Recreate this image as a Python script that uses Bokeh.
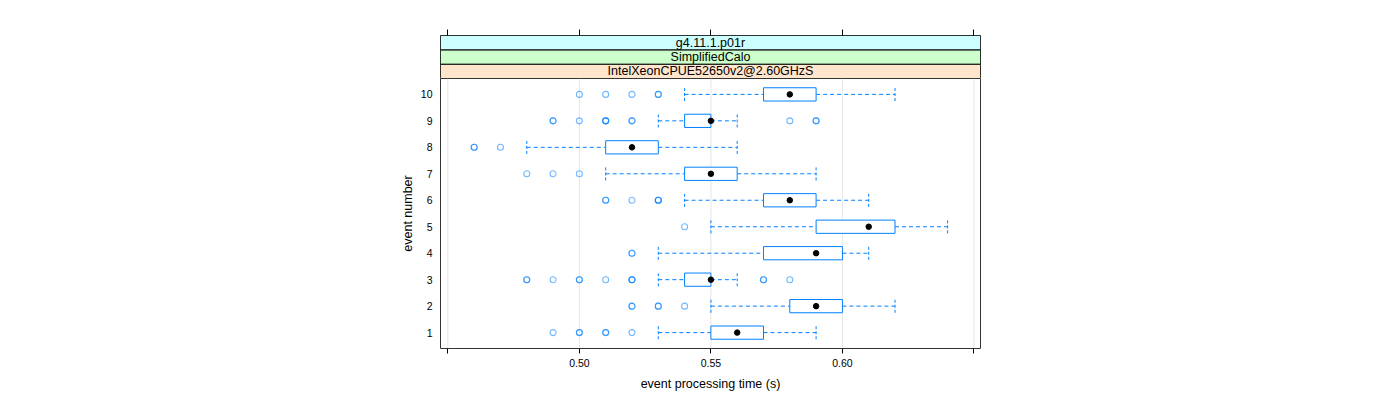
from bokeh.plotting import figure
from bokeh.layouts import column
from bokeh.models import Range1d, FixedTicker, CustomJSTickFormatter, LinearAxis
from bokeh.core.properties import value
from bokeh.embed import file_html
from bokeh.resources import INLINE

# ---- data ----
events = [1, 2, 3, 4, 5, 6, 7, 8, 9, 10]
whisker_low = [0.53, 0.55, 0.53, 0.53, 0.55, 0.54, 0.51, 0.48, 0.53, 0.54]
q1 = [0.55, 0.58, 0.54, 0.57, 0.59, 0.57, 0.54, 0.51, 0.54, 0.57]
median = [0.56, 0.59, 0.55, 0.59, 0.61, 0.58, 0.55, 0.52, 0.55, 0.58]
q3 = [0.57, 0.60, 0.55, 0.60, 0.62, 0.59, 0.56, 0.53, 0.55, 0.59]
whisker_high = [0.59, 0.62, 0.56, 0.61, 0.64, 0.61, 0.59, 0.56, 0.56, 0.62]
# outliers per event (repeated values = several coincident points)
outliers = [
    [0.49, 0.50, 0.50, 0.51, 0.51, 0.52],                                   # 1
    [0.52, 0.52, 0.53, 0.53, 0.54],                                         # 2
    [0.48, 0.48, 0.49, 0.50, 0.50, 0.51, 0.52, 0.52, 0.52, 0.57, 0.57, 0.58],  # 3
    [0.52, 0.52],                                                           # 4
    [0.54],                                                                 # 5
    [0.51, 0.51, 0.52, 0.53, 0.53, 0.53],                                   # 6
    [0.48, 0.49, 0.50],                                                     # 7
    [0.46, 0.46, 0.47],                                                     # 8
    [0.49, 0.49, 0.50, 0.51, 0.51, 0.51, 0.52, 0.52, 0.58, 0.59, 0.59],     # 9
    [0.50, 0.51, 0.52, 0.53, 0.53],                                         # 10
]
x_ticks = [0.45, 0.50, 0.55, 0.60, 0.65]
strip_labels = ["IntelXeonCPUE52650v2@2.60GHzS", "SimplifiedCalo", "g4.11.1.p01r"]
strip_colors = ["#FFE5CC", "#CCFFCC", "#CCFFFF"]
x_label = "event processing time (s)"
y_label = "event number"

FONT = "Liberation Sans"
BLUE = "#0080ff"

x0, x1 = 0.4472, 0.6525
y0, y1 = 0.4, 10.6
xr = Range1d(x0, x1)

# ---------------- strip figure ----------------
s = figure(x_range=xr, y_range=Range1d(0, len(strip_labels)),
           frame_width=540, frame_height=43,
           min_border_left=440, min_border_right=404,
           min_border_top=35, min_border_bottom=0,
           output_backend="svg", toolbar_location=None,
           x_axis_location=None, y_axis_location=None)
s.grid.visible = False
s.outline_line_color = "#333333"
s.border_fill_color = "white"
for i, (lab, col) in enumerate(zip(strip_labels, strip_colors)):
    s.quad(left=[x0], right=[x1], bottom=[i], top=[i + 1], fill_color=col,
           line_color="black", line_width=1)
    s.text(x=[(x0 + x1) / 2], y=[i + 0.5], text=[lab], text_align="center",
           text_baseline="middle", text_font=value(FONT), text_font_size="12.5px",
           text_color="black")
xt = LinearAxis(ticker=FixedTicker(ticks=x_ticks),
                formatter=CustomJSTickFormatter(code="return '';"))
xt.axis_line_color = None
xt.major_tick_in = 0
xt.major_tick_out = 6
xt.minor_tick_line_color = None
xt.major_tick_line_color = "black"
xt.major_label_text_font_size = "0px"
s.add_layout(xt, "above")

# ---------------- panel figure ----------------
p = figure(x_range=xr, y_range=Range1d(y0, y1),
           frame_width=540, frame_height=270,
           min_border_left=440, min_border_right=404,
           min_border_top=0, min_border_bottom=50,
           output_backend="svg", toolbar_location=None,
           x_axis_location=None, y_axis_location=None)
p.grid.visible = False
p.outline_line_color = "#333333"
p.border_fill_color = "white"

# reference grid lines
p.segment(x0=x_ticks, x1=x_ticks, y0=[y0] * len(x_ticks), y1=[y1] * len(x_ticks),
          line_color="#e6e6e6", line_width=1)

half = 0.25
lo = [e - half for e in events]
hi = [e + half for e in events]
# whiskers (dashed) and caps
p.segment(x0=whisker_low, x1=q1, y0=events, y1=events, line_color=BLUE, line_dash="4 3")
p.segment(x0=q3, x1=whisker_high, y0=events, y1=events, line_color=BLUE, line_dash="4 3")
p.segment(x0=whisker_low, x1=whisker_low, y0=lo, y1=hi, line_color=BLUE, line_dash="3 2")
p.segment(x0=whisker_high, x1=whisker_high, y0=lo, y1=hi, line_color=BLUE, line_dash="3 2")
# boxes
p.quad(left=q1, right=q3, bottom=lo, top=hi, fill_color="white", line_color=BLUE, line_width=1)
# medians
p.scatter(x=median, y=events, size=5.5, marker="circle", fill_color="black", line_color="black")
# outliers
ox, oy = [], []
for e, vals in zip(events, outliers):
    for v in vals:
        ox.append(v)
        oy.append(e)
p.scatter(x=ox, y=oy, size=6, marker="circle", fill_color=None, line_color=BLUE,
          line_alpha=0.55, line_width=1.1)

# bottom axis
xb = LinearAxis(ticker=FixedTicker(ticks=x_ticks),
                formatter=CustomJSTickFormatter(code="return (tick > 0.47 && tick < 0.63) ? tick.toFixed(2) : '';"))
xb.axis_label = x_label
xb.axis_line_color = None
xb.major_tick_in = 0
xb.major_tick_out = 5
xb.minor_tick_line_color = None
xb.major_tick_line_color = "black"
xb.major_label_text_font = FONT
xb.major_label_text_font_size = "10.5px"
xb.major_label_text_color = "black"
xb.major_label_standoff = 5
xb.axis_label_text_font = FONT
xb.axis_label_text_font_size = "12.5px"
xb.axis_label_text_font_style = "normal"
xb.axis_label_text_color = "black"
xb.axis_label_standoff = 7
p.add_layout(xb, "below")

# left axis
yl = LinearAxis(ticker=FixedTicker(ticks=events))
yl.axis_label = y_label
yl.axis_line_color = None
yl.major_tick_in = 0
yl.major_tick_out = 0
yl.minor_tick_line_color = None
yl.major_label_text_font = FONT
yl.major_label_text_font_size = "10.5px"
yl.major_label_text_color = "black"
yl.major_label_standoff = 8
yl.axis_label_text_font = FONT
yl.axis_label_text_font_size = "12.5px"
yl.axis_label_text_font_style = "normal"
yl.axis_label_text_color = "black"
yl.axis_label_standoff = 3
p.add_layout(yl, "left")

layout = column(s, p, spacing=0)
open("out.html", "w").write(file_html(layout, INLINE))
